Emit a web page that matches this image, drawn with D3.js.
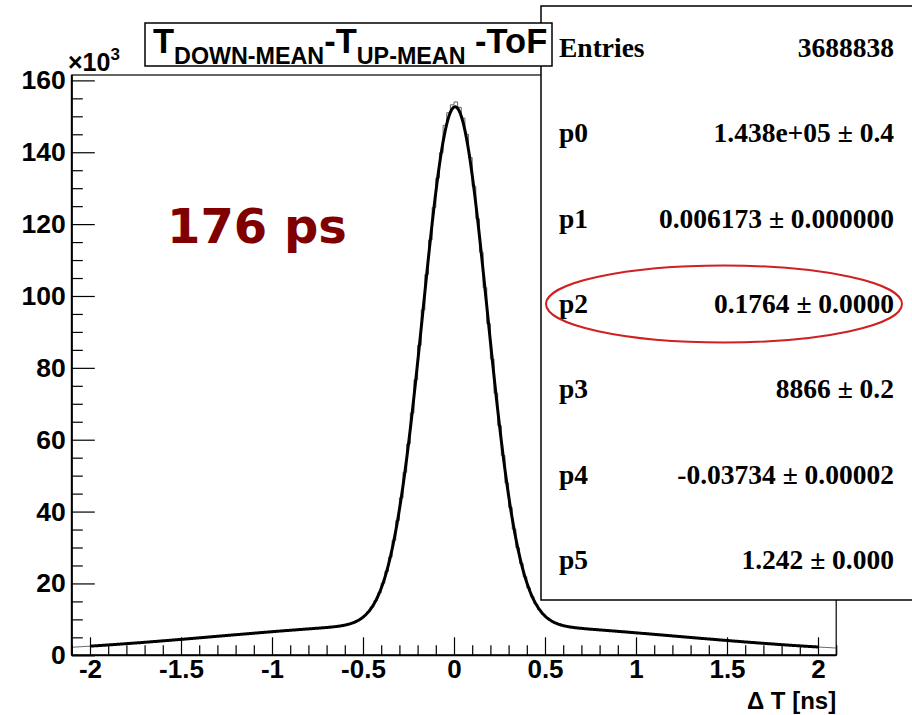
<!DOCTYPE html>
<html>
<head>
<meta charset="utf-8">
<script src="https://cdn.jsdelivr.net/npm/d3@7"></script>
<style>
  body { margin: 0; background: #fff; }
  svg { display: block; }
</style>
</head>
<body>
<div id="chart"></div>
<script>
// histogram: 210 bins of 0.02 ns from -2.1 to 2.1 ns, counts in units of 10^3
const binStart = -2.1;
const binWidth = 0.02;
const counts = [
  // -2.1 .. -0.8
  2.27, 2.33, 2.39, 2.45, 2.51, 2.58, 2.64, 2.71, 2.78, 2.84,
  2.92, 2.99, 3.06, 3.13, 3.20, 3.28, 3.35, 3.43, 3.51, 3.58,
  3.66, 3.74, 3.82, 3.90, 3.98, 4.06, 4.14, 4.22, 4.31, 4.39,
  4.47, 4.56, 4.64, 4.73, 4.81, 4.90, 4.99, 5.07, 5.16, 5.25,
  5.33, 5.42, 5.50, 5.59, 5.68, 5.76, 5.85, 5.93, 6.02, 6.11,
  6.19, 6.27, 6.36, 6.44, 6.52, 6.61, 6.69, 6.77, 6.85, 6.93,
  7.00, 7.08, 7.15, 7.23, 7.31,
  // -0.8 .. 0.8
  7.39, 7.46, 7.54, 7.61, 7.70, 7.78, 7.87, 7.99, 8.13, 8.29,
  8.51, 8.77, 9.14, 9.61, 10.24, 11.04, 12.10, 13.45, 15.19, 17.36,
  20.05, 23.35, 27.30, 32.02, 37.50, 43.79, 50.92, 58.82, 67.42, 76.65,
  86.28, 96.14, 105.99, 115.58, 124.61, 132.80, 139.86, 147.5, 151.0, 153.2,
  154.0, 152.5, 149.5, 145.0, 138.5, 130.5, 121.5, 112.2, 102.3, 92.3,
  82.46, 72.94, 63.95, 55.58, 47.96, 41.15, 35.14, 29.95, 25.54, 21.83,
  18.77, 16.28, 14.27, 12.68, 11.44, 10.47, 9.73, 9.16, 8.73, 8.40,
  8.15, 7.95, 7.78, 7.66, 7.55, 7.45, 7.35, 7.27, 7.19, 7.11,
  // 0.8 .. 2.1
  7.03, 6.95, 6.87, 6.79, 6.71, 6.63, 6.54, 6.46, 6.38, 6.30,
  6.21, 6.13, 6.04, 5.96, 5.87, 5.79, 5.70, 5.61, 5.53, 5.44,
  5.36, 5.27, 5.18, 5.10, 5.01, 4.92, 4.84, 4.75, 4.67, 4.58,
  4.50, 4.41, 4.33, 4.25, 4.16, 4.08, 4.00, 3.92, 3.84, 3.76,
  3.68, 3.60, 3.53, 3.45, 3.37, 3.30, 3.22, 3.15, 3.08, 3.00,
  2.93, 2.87, 2.80, 2.73, 2.66, 2.60, 2.53, 2.47, 2.41, 2.34,
  2.28, 2.22, 2.17, 2.11, 2.05
];

// fit: p0*gaus(p1,p2) + p3*gaus(p4,p5), amplitudes in 10^3
const fitParams = [143.8, 0.006173, 0.1764, 8.866, -0.03734, 1.242];
const fitRange = [-2, 2];

const statLabels = ['Entries', 'p0', 'p1', 'p2', 'p3', 'p4', 'p5'];
const statValues = [
  '3688838',
  '1.438e+05 \u00b1 0.4',
  '0.006173 \u00b1 0.000000',
  '0.1764 \u00b1 0.0000',
  '8866 \u00b1 0.2',
  '-0.03734 \u00b1 0.00002',
  '1.242 \u00b1 0.000'
];

const xTicks = [-2, -1.5, -1, -0.5, 0, 0.5, 1, 1.5, 2];
const yTicks = [0, 20, 40, 60, 80, 100, 120, 140, 160];

class TofChart {

  constructor({ id, width, height }) {
    this.domId = id;
    this.width = width || 912;
    this.height = height || 715;
    this._init();
  }

  draw() {
    this._drawFrame();
    this._drawHistogram();
    this._drawFit();
    this._drawAxes();
    this._drawStats();
    this._drawTitle();
    this._drawNote();
  }

  _init() {
    this.x = d3.scaleLinear().domain([-2.1, 2.1]).range([71.8, 836.2]);
    this.y = d3.scaleLinear().domain([0, 161.5]).range([655.3, 75]);

    this.svg = d3.select(`#${this.domId}`)
        .append('svg')
        .attr('width', this.width)
        .attr('height', this.height);
  }

  _drawFrame() {
    const [x0, x1] = this.x.range();
    const [y0, y1] = this.y.range();
    this.svg.append('rect')
        .attr('x', x0).attr('y', y1)
        .attr('width', x1 - x0).attr('height', y0 - y1)
        .attr('fill', 'none')
        .attr('stroke', '#000')
        .attr('stroke-width', 1.2);
  }

  _drawHistogram() {
    const pts = counts.map((c, i) => [binStart + i * binWidth, c]);
    pts.push([binStart + counts.length * binWidth, counts[counts.length - 1]]);

    const line = d3.line()
        .x(d => this.x(d[0]))
        .y(d => this.y(d[1]))
        .curve(d3.curveStepAfter);

    this.svg.append('path')
        .attr('d', line(pts))
        .attr('fill', 'none')
        .attr('stroke', '#666')
        .attr('stroke-width', 1);
  }

  _fit(t) {
    const [a, m, s, b, m2, s2] = fitParams;
    return a * Math.exp(-0.5 * ((t - m) / s) ** 2) +
        b * Math.exp(-0.5 * ((t - m2) / s2) ** 2);
  }

  _drawFit() {
    const ts = d3.range(fitRange[0], fitRange[1] + 1e-9, 0.004);
    const line = d3.line()
        .x(t => this.x(t))
        .y(t => this.y(this._fit(t)));

    this.svg.append('path')
        .attr('d', line(ts))
        .attr('fill', 'none')
        .attr('stroke', '#000')
        .attr('stroke-width', 3)
        .attr('stroke-linejoin', 'round');
  }

  _drawAxes() {
    const font = '"Liberation Sans", Arial, sans-serif';
    const y0 = this.y.range()[0];
    const x0 = this.x.range()[0];

    // x minor ticks every 0.1
    const xMinor = d3.range(-21, 22).map(i => i / 10)
        .filter(v => Math.abs(v * 2 - Math.round(v * 2)) > 1e-6);
    this.svg.append('g')
        .attr('transform', `translate(0,${y0})`)
        .call(d3.axisBottom(this.x).tickValues(xMinor).tickSize(-10).tickFormat(''))
        .call(g => g.select('.domain').remove());

    const gx = this.svg.append('g')
        .attr('transform', `translate(0,${y0})`)
        .call(d3.axisBottom(this.x).tickValues(xTicks).tickSize(-18).tickPadding(4)
            .tickFormat(d => String(d)));
    gx.select('.domain').remove();
    gx.selectAll('text')
        .attr('font-family', font)
        .attr('font-weight', 'bold')
        .attr('font-size', 26)
        .attr('fill', '#000');

    // y minor ticks every 5
    const yMinor = d3.range(0, 161, 5).filter(v => v % 20 !== 0);
    this.svg.append('g')
        .attr('transform', `translate(${x0},0)`)
        .call(d3.axisLeft(this.y).tickValues(yMinor).tickSize(-11).tickFormat(''))
        .call(g => g.select('.domain').remove());

    const gy = this.svg.append('g')
        .attr('transform', `translate(${x0},0)`)
        .call(d3.axisLeft(this.y).tickValues(yTicks).tickSize(-23).tickPadding(6)
            .tickFormat(d => String(d)));
    gy.select('.domain').remove();
    gy.selectAll('text')
        .attr('font-family', font)
        .attr('font-weight', 'bold')
        .attr('font-size', 26.5)
        .attr('fill', '#000');

    this.svg.selectAll('.tick line').attr('stroke', '#000').attr('stroke-width', 1.2);

    // axis lines a bit heavier
    const [xa, xb] = this.x.range();
    this.svg.append('line')
        .attr('x1', xa).attr('x2', xb).attr('y1', y0).attr('y2', y0)
        .attr('stroke', '#000').attr('stroke-width', 2);
    this.svg.append('line')
        .attr('x1', x0).attr('x2', x0).attr('y1', this.y.range()[1]).attr('y2', y0)
        .attr('stroke', '#000').attr('stroke-width', 2);

    // axis title
    this.svg.append('text')
        .attr('x', xb)
        .attr('y', 709)
        .attr('text-anchor', 'end')
        .attr('font-family', font)
        .attr('font-weight', 'bold')
        .attr('font-size', 24)
        .text('\u0394 T [ns]');

    // exponent
    const ex = this.svg.append('text')
        .attr('x', 68)
        .attr('y', 71)
        .attr('font-family', font)
        .attr('font-weight', 'bold')
        .attr('font-size', 25);
    ex.append('tspan').text('\u00d710');
    ex.append('tspan').attr('font-size', 17).attr('dy', -11).text('3');
  }

  _drawStats() {
    const g = this.svg.append('g');
    g.append('rect')
        .attr('x', 541).attr('y', 6)
        .attr('width', 390).attr('height', 594)
        .attr('fill', '#fff')
        .attr('stroke', '#000')
        .attr('stroke-width', 1.5);

    const font = '"Liberation Serif", "Times New Roman", serif';
    const rowY = i => 57 + i * 85.3;

    g.selectAll('text.lab')
        .data(statLabels)
        .join('text')
        .attr('class', 'lab')
        .attr('x', 559)
        .attr('y', (d, i) => rowY(i))
        .attr('font-family', font)
        .attr('font-weight', 'bold')
        .attr('font-size', 27.5)
        .text(d => d);

    g.selectAll('text.val')
        .data(statValues)
        .join('text')
        .attr('class', 'val')
        .attr('x', 894)
        .attr('y', (d, i) => rowY(i))
        .attr('text-anchor', 'end')
        .attr('font-family', font)
        .attr('font-weight', 'bold')
        .attr('font-size', 27.5)
        .text(d => d);

    // red mark around the width parameter
    g.append('ellipse')
        .attr('cx', 724).attr('cy', 304)
        .attr('rx', 178).attr('ry', 38.5)
        .attr('fill', 'none')
        .attr('stroke', '#d02020')
        .attr('stroke-width', 2);
  }

  _drawTitle() {
    const font = '"Liberation Sans", Arial, sans-serif';
    this.svg.append('rect')
        .attr('x', 145).attr('y', 23)
        .attr('width', 407).attr('height', 43)
        .attr('fill', '#fff')
        .attr('stroke', '#000')
        .attr('stroke-width', 1.5);

    const t = this.svg.append('text')
        .attr('x', 153)
        .attr('y', 53)
        .attr('font-family', font)
        .attr('font-weight', 'bold')
        .attr('font-size', 34.5);
    t.append('tspan').text('T');
    t.append('tspan').attr('font-size', 23.3).attr('dy', 11).text('DOWN-MEAN');
    t.append('tspan').attr('dy', -11).text('-T');
    t.append('tspan').attr('font-size', 23.3).attr('dy', 11).text('UP-MEAN');
    t.append('tspan').attr('dy', -11).text(' -ToF');
  }

  _drawNote() {
    this.svg.append('text')
        .attr('x', 167)
        .attr('y', 243)
        .attr('font-family', '"DejaVu Sans", Verdana, sans-serif')
        .attr('font-weight', 'bold')
        .attr('font-size', 48)
        .attr('fill', '#800000')
        .text('176 ps');
  }

}

new TofChart({ id: 'chart', width: 912, height: 715 }).draw();
</script>
</body>
</html>
